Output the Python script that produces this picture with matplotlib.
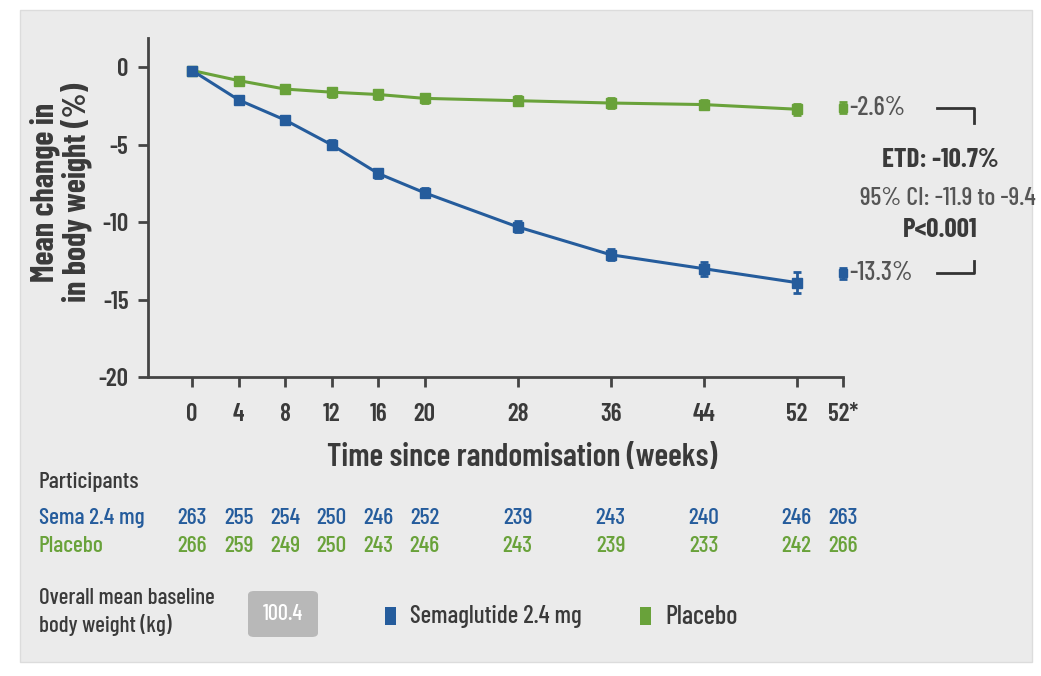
import matplotlib
matplotlib.use("Agg")
import matplotlib.pyplot as plt
import matplotlib.transforms as mtransforms
from matplotlib.patches import FancyBboxPatch, Rectangle

plt.rcParams['font.family'] = ['Barlow Condensed', 'DejaVu Sans']
plt.rcParams['font.weight'] = 'medium'

weeks = [0, 4, 8, 12, 16, 20, 28, 36, 44, 52]
week_labels = ['0', '4', '8', '12', '16', '20', '28', '36', '44', '52', '52*']
end_week = 56  # slot used for the 52* estimate

sema = [-0.2, -2.1, -3.4, -5.0, -6.85, -8.1, -10.3, -12.1, -13.0, -13.9]
sema_err = [0.2, 0.25, 0.25, 0.3, 0.3, 0.3, 0.35, 0.35, 0.45, 0.7]
placebo = [-0.2, -0.85, -1.4, -1.6, -1.75, -2.0, -2.15, -2.3, -2.4, -2.7]
placebo_err = [0.2, 0.25, 0.25, 0.3, 0.3, 0.3, 0.3, 0.3, 0.3, 0.35]
sema_end, sema_end_err = -13.3, 0.35
placebo_end, placebo_end_err = -2.6, 0.35

n_sema = [263, 255, 254, 250, 246, 252, 239, 243, 240, 246, 263]
n_placebo = [266, 259, 249, 250, 243, 246, 243, 239, 233, 242, 266]

etd_text = ['ETD: -10.7%', '95% CI: -11.9 to -9.4', 'P<0.001']
baseline_weight = 100.4

BLUE = '#255c9c'
GREEN = '#69a23a'
BG = '#ebebeb'
DARK = '#3a3a3a'

fig = plt.figure(figsize=(10.41, 6.76), dpi=100)
fig.patch.set_facecolor('white')
fig.patches.append(Rectangle((20 / 1041, 1 - 662 / 676), 1012 / 1041, 652 / 676,
                             transform=fig.transFigure, facecolor=BG,
                             edgecolor='#dcdcdc', lw=1, zorder=-10))

ax = fig.add_axes([148 / 1041, 1 - 377 / 676, (843 - 148) / 1041, (377 - 38) / 676])
ax.patch.set_alpha(0)

ax.errorbar(weeks, placebo, yerr=placebo_err, color=GREEN, lw=2.2, marker='s',
            ms=7.5, capsize=3, elinewidth=2, capthick=2, zorder=3)
ax.errorbar(weeks, sema, yerr=sema_err, color=BLUE, lw=2.2, marker='s',
            ms=7.5, capsize=3, elinewidth=2, capthick=2, zorder=4)
ax.errorbar([end_week], [placebo_end], yerr=[placebo_end_err], color=GREEN,
            marker='s', ms=6, capsize=3, elinewidth=2, capthick=2, ls='none',
            clip_on=False, zorder=3)
ax.errorbar([end_week], [sema_end], yerr=[sema_end_err], color=BLUE,
            marker='s', ms=6, capsize=3, elinewidth=2, capthick=2, ls='none',
            clip_on=False, zorder=3)

ax.text(end_week + 0.5, placebo_end, '-%.1f%%' % abs(placebo_end), color='#555555',
        fontsize=19, va='center', ha='left', clip_on=False)
ax.text(end_week + 0.5, sema_end, '-%.1f%%' % abs(sema_end), color='#555555',
        fontsize=19, va='center', ha='left', clip_on=False)

# bracket linking the two end estimates
ax.plot([64.1, 67.3, 67.3], [placebo_end, placebo_end, placebo_end - 1.0],
        color='#333333', lw=2, clip_on=False)
ax.plot([64.1, 67.3, 67.3], [sema_end, sema_end, sema_end + 0.8],
        color='#333333', lw=2, clip_on=False)
ax.text(64.4, -6.0, etd_text[0], fontsize=19.5, fontweight='bold', color=DARK,
        ha='center', va='center', clip_on=False)
ax.text(65.0, -8.5, etd_text[1], fontsize=18.5, color='#555555',
        ha='center', va='center', clip_on=False)
ax.text(64.4, -10.5, etd_text[2], fontsize=19.5, fontweight='bold', color=DARK,
        ha='center', va='center', clip_on=False)

ax.set_xlim(-3.8, end_week)
ax.set_ylim(-20, 1.9)
ax.set_xticks(weeks + [end_week])
ax.set_xticklabels(week_labels)
ax.set_yticks([0, -5, -10, -15, -20])
ax.set_yticklabels(['0', '-5', '-10', '-15', '-20'])
for side in ['top', 'right']:
    ax.spines[side].set_visible(False)
for side in ['left', 'bottom']:
    ax.spines[side].set_color('#444444')
    ax.spines[side].set_linewidth(2)
ax.tick_params(axis='both', colors='#444444', width=2, length=7,
               labelsize=18, labelcolor=DARK)
ax.tick_params(axis='x', pad=12)
ax.tick_params(axis='y', pad=7)
for lbl in ax.get_xticklabels() + ax.get_yticklabels():
    lbl.set_fontweight('semibold')

ax.set_xlabel('Time since randomisation (weeks)', fontsize=23,
              fontweight='semibold', color=DARK)
ax.xaxis.set_label_coords((522 - 148) / 695, -0.195)
fig.text(61 / 1041, 1 - 192 / 676, 'Mean change in\nin body weight (%)',
         rotation=90, fontsize=23, fontweight='bold', color=DARK,
         ha='center', va='center', linespacing=1.0)

# participants at risk table
trans = mtransforms.blended_transform_factory(ax.transData, fig.transFigure)
xs = weeks + [end_week]
fig.text(39 / 1041, 1 - 482 / 676, 'Participants', fontsize=17, color=DARK,
         va='center')
fig.text(39 / 1041, 1 - 518 / 676, 'Sema 2.4 mg', fontsize=17, color=BLUE,
         va='center')
fig.text(39 / 1041, 1 - 546 / 676, 'Placebo', fontsize=17, color=GREEN,
         va='center')
for x, a, b in zip(xs, n_sema, n_placebo):
    ax.text(x, 1 - 518 / 676, str(a), transform=trans, fontsize=17, color=BLUE,
            ha='center', va='center', clip_on=False)
    ax.text(x, 1 - 546 / 676, str(b), transform=trans, fontsize=17, color=GREEN,
            ha='center', va='center', clip_on=False)

# baseline weight and legend
fig.text(39 / 1041, 1 - 612 / 676, 'Overall mean baseline\nbody weight (kg)',
         fontsize=16.5, color=DARK, va='center', linespacing=1.35)
fig.patches.append(FancyBboxPatch((248 / 1041, 1 - 637 / 676), 70 / 1041, 46 / 676,
                                  boxstyle='round,pad=0,rounding_size=0.006',
                                  transform=fig.transFigure, facecolor='#b8b8b8',
                                  edgecolor='none'))
fig.text(283 / 1041, 1 - 614 / 676, '%.1f' % baseline_weight, fontsize=16,
         color='white', ha='center', va='center')
fig.patches.append(Rectangle((385 / 1041, 1 - 625 / 676), 11 / 1041, 18 / 676,
                             transform=fig.transFigure, facecolor=BLUE))
fig.text(410 / 1041, 1 - 617 / 676, 'Semaglutide 2.4 mg', fontsize=18,
         color=DARK, va='center')
fig.patches.append(Rectangle((640 / 1041, 1 - 625 / 676), 11 / 1041, 18 / 676,
                             transform=fig.transFigure, facecolor=GREEN))
fig.text(665 / 1041, 1 - 617 / 676, 'Placebo', fontsize=19, color=DARK,
         va='center')

fig.savefig('out.png', dpi=100, facecolor=fig.get_facecolor())
